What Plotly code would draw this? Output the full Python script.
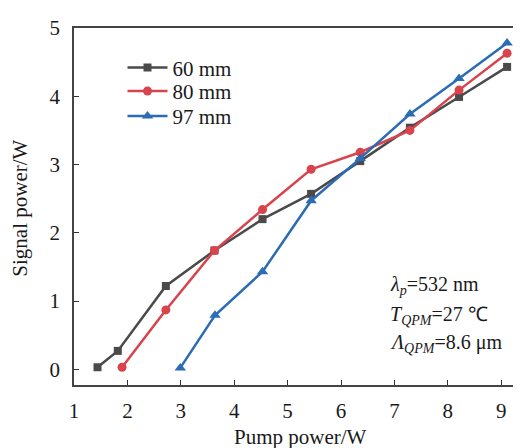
import plotly.graph_objects as go

pump_60 = [1.44, 1.82, 2.72, 3.63, 4.53, 5.44, 6.36, 7.29, 8.21, 9.11]
sig_60 = [0.03, 0.27, 1.22, 1.74, 2.20, 2.57, 3.05, 3.54, 3.99, 4.43]

pump_80 = [1.90, 2.72, 3.63, 4.53, 5.44, 6.36, 7.29, 8.21, 9.11]
sig_80 = [0.03, 0.87, 1.74, 2.34, 2.93, 3.18, 3.50, 4.09, 4.63]

pump_97 = [2.99, 3.64, 4.53, 5.44, 6.36, 7.29, 8.21, 9.11]
sig_97 = [0.02, 0.79, 1.43, 2.47, 3.09, 3.74, 4.26, 4.78]

series_names = ["60 mm", "80 mm", "97 mm"]
x_ticks = [1, 2, 3, 4, 5, 6, 7, 8, 9]
y_ticks = [0, 1, 2, 3, 4, 5]

FONT = "Liberation Serif, Times New Roman, serif"
TXT = "#1a1a1a"

fig = go.Figure()
styles = [
    ("#4a4a4a", "square", 8, "legend"),
    ("#d8434c", "circle", 9, "legend2"),
    ("#2b6cb5", "triangle-up", 10, "legend3"),
]
for (xs, ys), name, (col, sym, ms, lg) in zip(
    [(pump_60, sig_60), (pump_80, sig_80), (pump_97, sig_97)], series_names, styles
):
    fig.add_trace(go.Scatter(
        x=xs, y=ys, name=name, mode="lines+markers", legend=lg,
        line=dict(color=col, width=2.5),
        marker=dict(color=col, symbol=sym, size=ms),
    ))

def leg(y):
    return dict(
        x=0.1085, y=y, xanchor="left", yanchor="top",
        bgcolor="rgba(0,0,0,0)", font=dict(size=21, family=FONT, color=TXT),
        itemwidth=40,
    )

fig.update_layout(
    width=521, height=448,
    margin=dict(l=66, r=8, t=13, b=71),
    paper_bgcolor="white", plot_bgcolor="white",
    font=dict(family=FONT, size=21, color=TXT),
    showlegend=True,
    legend=leg(0.946),
    legend2=leg(0.880),
    legend3=leg(0.810),
    xaxis=dict(
        range=[1, 9.37], tickvals=x_ticks, ticks="inside", ticklen=5,
        tickcolor="#333", tickwidth=1.3, showgrid=False, zeroline=False,
        showline=True, linecolor="#444", linewidth=1.5, mirror=True,
        tickfont=dict(size=21, family=FONT, color=TXT), ticklabelstandoff=6,
    ),
    yaxis=dict(
        range=[-0.23, 5], tickvals=y_ticks, ticks="inside", ticklen=5,
        tickcolor="#333", tickwidth=1.3, showgrid=False, zeroline=False,
        showline=True, linecolor="#444", linewidth=1.5,
        tickfont=dict(size=21, family=FONT, color=TXT), ticklabelstandoff=8,
    ),
    annotations=[
        dict(text="Signal power/W", xref="paper", yref="paper", x=-0.12, y=0.495,
             xanchor="center", yanchor="middle", textangle=-90, showarrow=False,
             font=dict(size=21, family=FONT, color=TXT)),
        dict(text="Pump power/W", xref="paper", yref="paper", x=0.5056, y=-0.145,
             xanchor="center", yanchor="middle", showarrow=False,
             font=dict(size=21, family=FONT, color=TXT)),
        dict(text="<i>λ</i><sub><i>p</i></sub>=532 nm", xref="paper", yref="paper",
             x=0.702, y=0.2775, xanchor="left", yanchor="middle", showarrow=False,
             font=dict(size=20, family=FONT, color=TXT)),
        dict(text="<i>T</i><sub><i>QPM</i></sub>=27 ℃", xref="paper", yref="paper",
             x=0.702, y=0.195, xanchor="left", yanchor="middle", showarrow=False,
             font=dict(size=20, family=FONT, color=TXT)),
        dict(text="<i>Λ</i><sub><i>QPM</i></sub>=8.6 μm", xref="paper", yref="paper",
             x=0.702, y=0.1154, xanchor="left", yanchor="middle", showarrow=False,
             font=dict(size=20, family=FONT, color=TXT)),
    ],
)

fig.write_html("out.html")
